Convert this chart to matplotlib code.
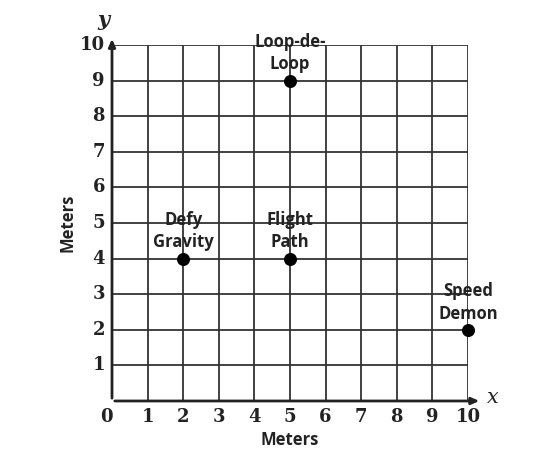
import matplotlib
matplotlib.use("Agg")
from matplotlib import pyplot as plt

# points on the grid
names = ["Defy\nGravity", "Flight\nPath", "Loop-de-\nLoop", "Speed\nDemon"]
xs = [2, 5, 5, 10]
ys = [4, 4, 9, 2]
ticks = list(range(0, 11))

fig = plt.figure(figsize=(5.45, 4.68), dpi=100)
ax = fig.add_axes([0.2055, 0.1432, 0.653, 0.7607])
ax.set_xlim(0, 10)
ax.set_ylim(0, 10)

for t in ticks[1:]:
    ax.axvline(t, color="#333333", lw=1.3, zorder=1)
    ax.axhline(t, color="#333333", lw=1.3, zorder=1)

for s in ax.spines.values():
    s.set_visible(False)

# axes with arrows
ax.annotate("", xy=(10.4, 0), xytext=(0, 0),
            arrowprops=dict(arrowstyle="-|>,head_width=0.2,head_length=0.45",
                            color="#222222", lw=2), annotation_clip=False)
ax.annotate("", xy=(0, 10.25), xytext=(0, 0),
            arrowprops=dict(arrowstyle="-|>,head_width=0.2,head_length=0.45",
                            color="#222222", lw=2), annotation_clip=False)

ax.set_xticks([])
ax.set_yticks([])
serif = dict(family="DejaVu Serif", weight="bold", fontsize=13, color="#222222")
for t in ticks:
    ax.text(t if t > 0 else -0.15, -0.45, str(t), ha="center", va="center", **serif)
for t in ticks[1:]:
    ax.text(-0.2, t, str(t), ha="right", va="center", **serif)

ax.text(10.7, 0.1, "x", ha="center", va="center", family="DejaVu Serif",
        style="italic", fontsize=15, color="#222222")
ax.text(-0.25, 10.7, "y", ha="center", va="center", family="DejaVu Serif",
        style="italic", weight="bold", fontsize=15, color="#222222")

ax.text(5, -0.85, "Meters", ha="center", va="top", family="Open Sans",
        weight="bold", fontsize=12, color="#222222")
ax.text(-1.25, 5, "Meters", ha="center", va="center", rotation=90,
        family="Open Sans", weight="bold", fontsize=12, color="#222222")

ax.scatter(xs, ys, s=70, color="black", zorder=3, clip_on=False)
for n, x, y in zip(names, xs, ys):
    ax.text(x, y + 0.2, n, ha="center", va="bottom", family="Open Sans",
            weight="bold", fontsize=12, color="#222222", linespacing=1.35, zorder=4)

fig.savefig("out.png", dpi=100)
